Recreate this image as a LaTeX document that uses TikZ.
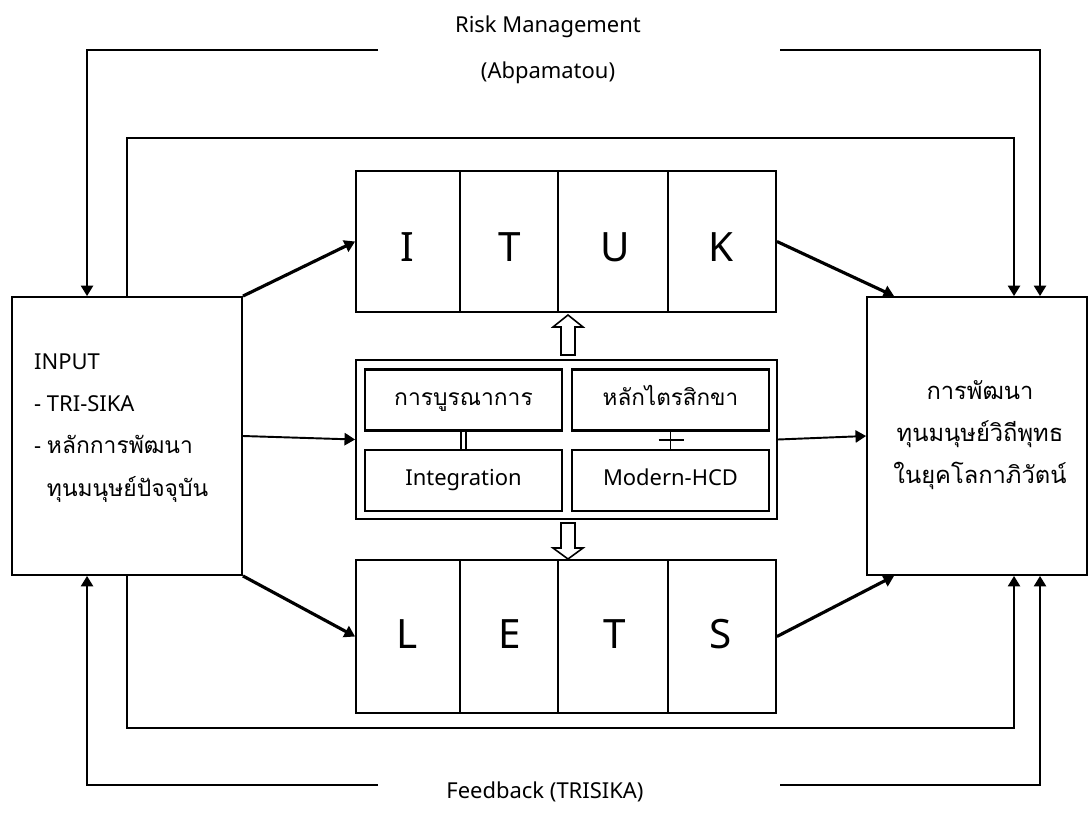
\documentclass[tikz,border=0pt]{standalone}
\usepackage{fontspec}
\setmainfont{Noto Sans}
\newfontfamily\thai[Script=Thai]{Loma}
\usetikzlibrary{arrows.meta,calc}

\tikzset{
  box/.style={draw, line width=1.1pt, inner sep=0pt},
  inbox/.style={draw, line width=1.4pt, minimum width=3.94cm, minimum height=1.22cm,
                inner sep=0pt, text height=10pt, text depth=4pt},
  letter/.style={font=\fontsize{23}{27}\selectfont},
  arrow/.style={line width=1.1pt, -{Triangle[length=6pt,width=7pt]}},
  thickarrow/.style={line width=1.8pt, -{Triangle[length=6pt,width=7pt]}},
  hollow/.style={line width=0.9pt, fill=white}
}

\begin{document}
\begin{tikzpicture}[x=0.02cm, y=-0.02cm, font=\fontsize{12.5}{24}\selectfont]
   \useasboundingbox (0,0) rectangle (1089,829);

   % main boxes
   \node[box, minimum width=4.6cm, minimum height=5.56cm] (lbox) at (127,436) {};
   \node[box, minimum width=4.4cm, minimum height=5.56cm] (rbox) at (977,436) {};
   \node[box, minimum width=8.4cm, minimum height=2.82cm] (ituk) at (566,241.5) {};
   \node[box, minimum width=8.4cm, minimum height=3.06cm] (lets) at (566,636.5) {};
   \node[box, minimum width=8.42cm, minimum height=3.18cm] (core) at (566.5,439.5) {};

   \foreach \x in {460,558,668}
   \draw[line width=1.1pt] (\x,171) -- (\x,312) (\x,560) -- (\x,713);

   \foreach \x/\t [count=\i] in {407/I,510/T,615/U,721/K}
   \node[letter] (up\i) at (\x,247) {\t};
   \foreach \x/\t [count=\i] in {407/L,510/E,615/T,721/S}
   \node[letter] (dn\i) at (\x,634) {\t};

   % texts
   \node[anchor=west, align=left] (intext) at (28,428)
     {INPUT\\- TRI-SIKA\\- {\thai\fontsize{13}{24}\selectfont หลักการพัฒนา}\\
      \phantom{-\ }{\thai\fontsize{13}{24}\selectfont ทุนมนุษย์ปัจจุบัน}};
   \node[align=center, font=\thai\fontsize{13.5}{24}\selectfont] (outtext) at (980,435)
     {การพัฒนา\\ทุนมนุษย์วิถีพุทธ\\ในยุคโลกาภิวัตน์};

   \node (risk) at (548,27) {Risk Management};
   \node (abpa) at (548,73) {(Abpamatou)};
   \node (fb) at (545,792) {Feedback (TRISIKA)};

   % core
   \node[inbox, font=\thai\fontsize{13}{16}\selectfont] (tl) at (463.5,400) {การบูรณาการ};
   \node[inbox, font=\thai\fontsize{12.8}{16}\selectfont] (tr) at (670.5,400) {หลักไตรสิกขา};
   \node[inbox] (bl) at (463.5,480.5) {Integration};
   \node[inbox] (br) at (670.5,480.5) {Modern-HCD};
   \draw[line width=0.8pt, double, double distance=2pt] (tl.south) -- (bl.north);
   \draw[line width=1.1pt] (tr.south) -- (br.north);
   \draw[line width=1.1pt] ($(tr.south)!.5!(br.north)$) ++(-12,0) -- ++(25,0);

   \draw[hollow] (561,355) -- (561,327) -- (553,327) -- (568,315)
                 -- (583,327) -- (575,327) -- (575,355) -- cycle;
   \draw[hollow] (561,523) -- (561,548) -- (553,548) -- (568,559)
                 -- (583,548) -- (575,548) -- (575,523) -- cycle;

   % flows
   \draw[thickarrow] (lbox.north east) -- (ituk.west);
   \draw[arrow] (lbox.east) -- (core.west);
   \draw[thickarrow] (lbox.south east) -- (lets.west);
   \draw[thickarrow] (ituk.east) -- ([xshift=0.56cm]rbox.north west);
   \draw[arrow] (core.east) -- (rbox.west);
   \draw[thickarrow] (lets.east) -- ([xshift=0.56cm]rbox.south west);

   % loops
   \coordinate (riskL) at (378,50);
   \coordinate (riskR) at (780,50);
   \coordinate (fbL) at (378,785);
   \coordinate (fbR) at (780,785);
   \draw[arrow] (riskL) -| ([xshift=1.52cm]lbox.north west);
   \draw[arrow] (riskR) -| ([xshift=3.48cm]rbox.north west);
   \draw[arrow] (fbL) -| ([xshift=1.52cm]lbox.south west);
   \draw[arrow] (fbR) -| ([xshift=3.48cm]rbox.south west);
   \draw[arrow] (lbox.north) -- ++(0,-158) -| ([xshift=2.96cm]rbox.north west);
   \draw[arrow] (lbox.south) -- ++(0,152) -| ([xshift=2.96cm]rbox.south west);

\end{tikzpicture}
\end{document}
